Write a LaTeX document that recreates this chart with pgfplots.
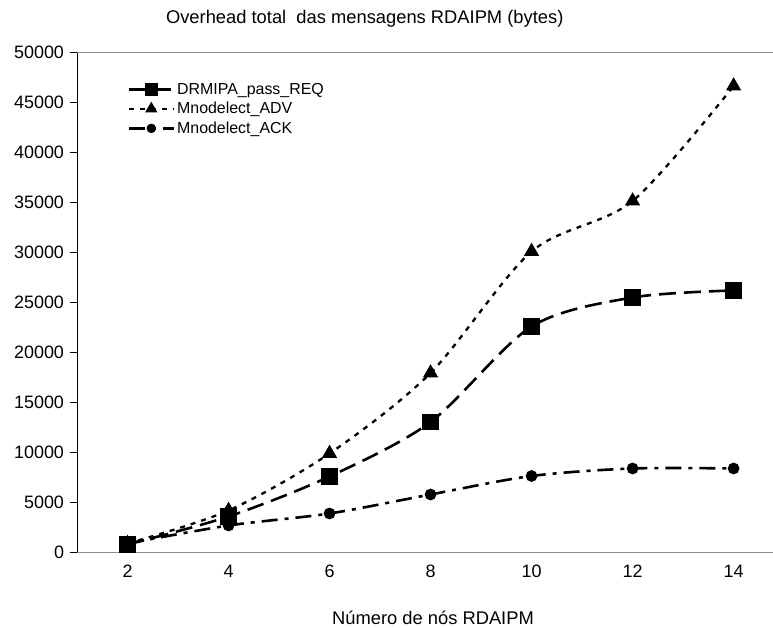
\documentclass[border=0pt]{standalone}
\usepackage{fontspec}
\setmainfont{Liberation Sans}
\usepackage{pgfplots}
\pgfplotsset{compat=1.18}

\begin{document}
\begin{tikzpicture}
\begin{axis}[
    name=ax,
    scale only axis,
    width=696bp, height=500bp,
    xmin=1, xmax=14.78,
    ymin=0, ymax=50000,
    axis lines=left,
    axis line style={-},
    x axis line style={draw=gray!90},
    y axis line style={draw=black},
    xtick={2,4,...,14},
    ytick={0,5000,...,50000},
    scaled y ticks=false,
    /pgf/number format/1000 sep={},
    /pgf/number format/assume math mode=true,
    xtick style={draw=none},
    ytick style={black, line width=0.8bp},
    tick align=outside,
    major tick length=7bp,
    tick label style={font=\fontsize{18}{21}\selectfont},
    x tick label style={yshift=-2bp},
    y tick label style={xshift=-2.5bp},
    title={Overhead total\ \ das mensagens RDAIPM (bytes)},
    title style={font=\fontsize{18.4}{21}\selectfont, at={(axis description cs:0.4134,1.047)}, anchor=base},
    xlabel={Número de nós RDAIPM},
    xlabel style={font=\fontsize{18.4}{21}\selectfont, at={(axis description cs:0.5115,-0.145)}, anchor=base},
    legend style={
        at={(axis description cs:0.068,0.947)}, anchor=north west,
        draw=none, fill=none,
        font=\fontsize{16}{19}\selectfont,
        row sep=2.5bp,
        nodes={inner sep=2bp},
    },
    legend cell align=left,
    legend image code/.code={
        \draw[mark repeat=2, mark phase=2, #1, every mark/.append style={scale=0.75}]
            plot coordinates {(0bp,0bp) (22.5bp,0bp) (45bp,0bp)};
    },
    every axis plot/.append style={black, line width=2.6bp, smooth},
    clip=false,
]
\draw[gray!90, line width=1bp] (axis cs:1,50000) -- (axis cs:14.78,50000);

\addplot[dash pattern=on 17bp off 8bp, mark=square*, mark size=7bp, mark options={solid}]
    coordinates {(2,800) (4,3600) (6,7600) (8,13050) (10,22600) (12,25500) (14,26200)};
\addlegendentry{DRMIPA\_pass\_REQ}

\addplot[line width=2.3bp, dash pattern=on 5bp off 6bp, mark=triangle*, mark size=6.5bp, mark options={solid}]
    coordinates {(2,900) (4,4200) (6,9900) (8,17950) (10,30100) (12,35150) (14,46650)};
\addlegendentry{Mnodelect\_ADV}

\addplot[dash pattern=on 16bp off 7bp on 4bp off 7bp, mark=*, mark size=4.5bp, mark options={solid}]
    coordinates {(2,900) (4,2700) (6,3900) (8,5800) (10,7650) (12,8400) (14,8400)};
\addlegendentry{Mnodelect\_ACK}
\end{axis}
\pgfresetboundingbox
\useasboundingbox ([xshift=-77bp,yshift=-75.5bp]ax.south west) rectangle ([yshift=52.5bp]ax.north east);
\end{tikzpicture}
\end{document}
